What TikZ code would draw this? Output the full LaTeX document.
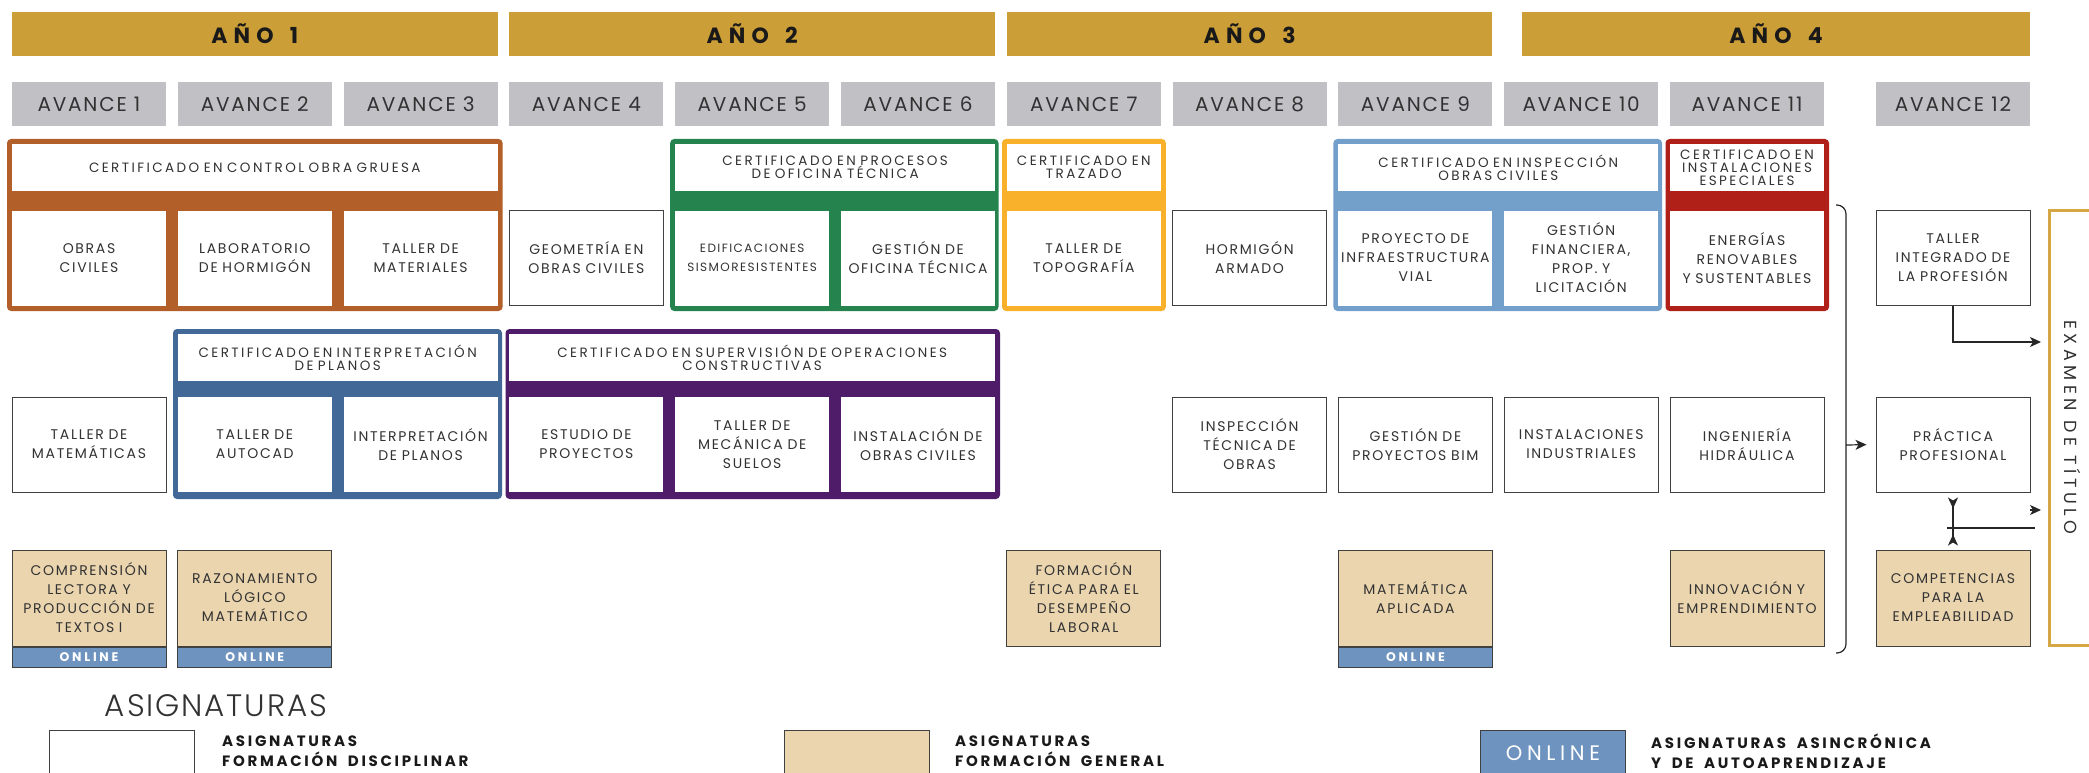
\documentclass[tikz,border=0pt]{standalone}
\usepackage{fontspec}
\usepackage{tikz}
\usetikzlibrary{arrows.meta}
\setmainfont{Poppins}
\newfontfamily\cajafont{Poppins}[LetterSpace=12, WordSpace=1.6]
\newfontfamily\titfont{Poppins}[LetterSpace=18, WordSpace=1.8]
\newfontfamily\aniofont{Poppins}[LetterSpace=28, WordSpace=1.5]
\newfontfamily\avfont{Poppins}[LetterSpace=9]
\newfontfamily\examfont{Poppins}[LetterSpace=26]
\newfontfamily\leyfont{Poppins}[LetterSpace=18, WordSpace=1.8]
\newfontfamily\onfont{Poppins}[LetterSpace=22]
\newfontfamily\finafont{Poppins}[UprightFont=* Light, LetterSpace=6]
\definecolor{oro}{RGB}{204,158,56}
\definecolor{oroex}{RGB}{212,166,68}
\definecolor{gris}{RGB}{193,192,197}
\definecolor{cafe}{RGB}{179,95,41}
\definecolor{verde}{RGB}{37,132,78}
\definecolor{amarillo}{RGB}{249,176,43}
\definecolor{celeste}{RGB}{114,160,202}
\definecolor{rojo}{RGB}{176,32,25}
\definecolor{azul}{RGB}{66,104,152}
\definecolor{morado}{RGB}{79,28,106}
\definecolor{beige}{RGB}{234,213,175}
\definecolor{onblue}{RGB}{109,147,190}
\definecolor{txt}{RGB}{50,50,50}
\tikzstyle{anio}=[fill=oro, minimum width=485.6, minimum height=44, inner sep=0, text=black!90, font=\aniofont\bfseries\fontsize{22}{22}\selectfont]
\tikzstyle{avance}=[fill=gris, minimum width=154, minimum height=44, inner sep=0, text=txt, font=\avfont\fontsize{20}{20}\selectfont]
\tikzstyle{titulo}=[fill=white, minimum height=47, inner sep=0, align=center, text=txt, font=\titfont\fontsize{13.5}{13}\selectfont]
\tikzstyle{curso}=[fill=white, text width=154, minimum height=95, inner sep=0, align=center, text=txt, font=\cajafont\fontsize{14}{19}\selectfont]
\tikzstyle{libre}=[curso, draw=black!75, line width=1]
\tikzstyle{general}=[libre, fill=beige, minimum height=96]
\tikzstyle{online}=[draw=black!75, line width=1, fill=onblue, minimum width=154, minimum height=20, inner sep=0, text=white, font=\onfont\bfseries\fontsize{12.5}{12}\selectfont]
\tikzstyle{linea}=[draw=black!85, line width=1.2]
\tikzstyle{flecha}=[linea, -{Stealth[length=11, width=10, inset=3]}]
\tikzstyle{muestra}=[draw=black!75, line width=1, minimum width=145, minimum height=60, inner sep=0, anchor=north west]
\tikzstyle{leyenda}=[anchor=west, inner sep=0, align=left, text=black!90, font=\leyfont\bfseries\fontsize{15}{20}\selectfont]

\begin{document}
\begin{tikzpicture}[x=1pt, y=-1pt]
\useasboundingbox (0,0) rectangle (2089,773);
\clip (0,0) rectangle (2089,773);
\fill[white] (0,0) rectangle (2089,773);

% anios y avances
\node[anio] (a1) at (254.8,34) {AÑO 1};
\node[anio] (a2) at (752.2,34) {AÑO 2};
\node[anio] (a3) at (1249.6,34) {AÑO 3};
\node[anio, minimum width=508] (a4) at (1776,34) {AÑO 4};
\foreach \i in {1,...,11}
  \node[avance] (av\i) at ({89+(\i-1)*165.8},104) {AVANCE \i};
\node[avance] (av12) at (1953,104) {AVANCE 12};

% certificados, fila 1
\fill[cafe, rounded corners=4] (7,139) rectangle (502.6,311);
\node[titulo, text width=485.6] (t1) at (254.8,167.5) {CERTIFICADO EN CONTROL OBRA GRUESA};
\node[curso] (c1) at (89,258) {OBRAS\\CIVILES};
\node[curso] (c2) at (254.8,258) {LABORATORIO\\DE HORMIGÓN};
\node[curso] (c3) at (420.6,258) {TALLER DE\\MATERIALES};
\node[libre] (c4) at (586.4,258) {GEOMETRÍA EN\\OBRAS CIVILES};

\fill[verde, rounded corners=4] (670.2,139) rectangle (998.5,311);
\node[titulo, text width=319.8] (t2) at (835.1,167.5) {CERTIFICADO EN PROCESOS\\DE OFICINA TÉCNICA};
\node[curso, font=\cajafont\fontsize{12}{19}\selectfont] (c5) at (752.2,258) {EDIFICACIONES\\SISMORESISTENTES};
\node[curso] (c6) at (918,258) {GESTIÓN DE\\OFICINA TÉCNICA};

\fill[amarillo, rounded corners=4] (1002,139) rectangle (1165.8,311);
\node[titulo, text width=154] (t3) at (1083.8,167.5) {CERTIFICADO EN\\TRAZADO};
\node[curso] (c7) at (1083.8,258) {TALLER DE\\TOPOGRAFÍA};
\node[libre] (c8) at (1249.6,258) {HORMIGÓN\\ARMADO};

\fill[celeste, rounded corners=4] (1333.4,139) rectangle (1662,311);
\node[titulo, text width=319.8] (t4) at (1498.3,167.5) {CERTIFICADO EN INSPECCIÓN\\OBRAS CIVILES};
\node[curso] (c9) at (1415.4,258) {PROYECTO DE\\INFRAESTRUCTURA\\VIAL};
\node[curso] (c10) at (1581.2,258) {GESTIÓN\\FINANCIERA,\\PROP. Y\\LICITACIÓN};

\fill[rojo, rounded corners=4] (1665.5,139) rectangle (1829,311);
\node[titulo, text width=154] (t5) at (1747,167.5) {CERTIFICADO EN\\INSTALACIONES\\ESPECIALES};
\node[curso] (c11) at (1747,258) {ENERGÍAS\\RENOVABLES\\Y SUSTENTABLES};
\node[libre] (c12) at (1953,258) {TALLER\\INTEGRADO DE\\LA PROFESIÓN};

% fila 2
\node[libre] (d1) at (89,444.5) {TALLER DE\\MATEMÁTICAS};
\fill[azul, rounded corners=4] (173,329) rectangle (502,499);
\node[titulo, text width=319.8] (t6) at (337.7,357.5) {CERTIFICADO EN INTERPRETACIÓN\\DE PLANOS};
\node[curso] (d2) at (254.8,444.5) {TALLER DE\\AUTOCAD};
\node[curso] (d3) at (420.6,444.5) {INTERPRETACIÓN\\DE PLANOS};
\fill[morado, rounded corners=4] (505.5,329) rectangle (1000,499);
\node[titulo, text width=485.6] (t7) at (752.2,357.5) {CERTIFICADO EN SUPERVISIÓN DE OPERACIONES\\CONSTRUCTIVAS};
\node[curso] (d4) at (586.4,444.5) {ESTUDIO DE\\PROYECTOS};
\node[curso] (d5) at (752.2,444.5) {TALLER DE\\MECÁNICA DE\\SUELOS};
\node[curso] (d6) at (918,444.5) {INSTALACIÓN DE\\OBRAS CIVILES};
\node[libre] (d8) at (1249.6,444.5) {INSPECCIÓN\\TÉCNICA DE\\OBRAS};
\node[libre] (d9) at (1415.4,444.5) {GESTIÓN DE\\PROYECTOS BIM};
\node[libre] (d10) at (1581.2,444.5) {INSTALACIONES\\INDUSTRIALES};
\node[libre] (d11) at (1747,444.5) {INGENIERÍA\\HIDRÁULICA};
\node[libre] (d12) at (1953,444.5) {PRÁCTICA\\PROFESIONAL};

% formacion general
\node[general] (g1) at (89,598) {COMPRENSIÓN\\LECTORA Y\\PRODUCCIÓN DE\\TEXTOS I};
\node[online, anchor=north] (o1) at (g1.south) {ONLINE};
\node[general] (g2) at (254.8,598) {RAZONAMIENTO\\LÓGICO\\MATEMÁTICO};
\node[online, anchor=north] (o2) at (g2.south) {ONLINE};
\node[general] (g7) at (1083.8,598) {FORMACIÓN\\ÉTICA PARA EL\\DESEMPEÑO\\LABORAL};
\node[general] (g9) at (1415.4,598) {MATEMÁTICA\\APLICADA};
\node[online, anchor=north] (o9) at (g9.south) {ONLINE};
\node[general] (g11) at (1747,598) {INNOVACIÓN Y\\EMPRENDIMIENTO};
\node[general] (g12) at (1953,598) {COMPETENCIAS\\PARA LA\\EMPLEABILIDAD};

% examen
\node[draw=oroex, line width=3, minimum width=48, minimum height=435, inner sep=0] (ex) at (2073,427.5) {};
\node[rotate=-90, inner sep=0, text=txt, font=\examfont\fontsize{17.5}{17}\selectfont] (ext) at (ex.center) {EXAMEN DE TÍTULO};

% llave y flechas
\draw[linea, rounded corners=9] (1836,205) -- (1846,205) -- (1846,653) -- (1836,653);
\coordinate (br) at (1846,445);
\draw[flecha, shorten >=9] (br) -- (d12.west);
\coordinate (e1) at (2041,342);
\draw[flecha] (c12.south) |- (e1);
\draw[linea, {Stealth[length=11, width=10, inset=3, reversed]}-{Stealth[length=11, width=10, inset=3, reversed]}, shorten <=5, shorten >=4] (d12.south) -- (g12.north);
\coordinate (j) at (1947,528);
\coordinate (e2) at (2035,528);
\draw[linea] (j) -- (e2);
\coordinate (e3) at (2041,510);
\draw[flecha] ([xshift=-11]e3) -- (e3);

% leyenda
\node[inner sep=0, text=txt, font=\finafont\fontsize{31}{31}\selectfont] (ley) at (216,706) {ASIGNATURAS};
\node[muestra, fill=white] (m1) at (49,730) {};
\node[leyenda] (l1) at (222,751) {ASIGNATURAS\\FORMACIÓN DISCIPLINAR};
\node[muestra, fill=beige] (m2) at (784,730) {};
\node[leyenda] (l2) at (955,751) {ASIGNATURAS\\FORMACIÓN GENERAL};
\node[muestra, fill=onblue, minimum height=46, text=white, font=\onfont\fontsize{21}{21}\selectfont] (m3) at (1480,730) {ONLINE};
\node[leyenda] (l3) at (1651,751) {ASIGNATURAS ASINCRÓNICA\\Y DE AUTOAPRENDIZAJE};
\end{tikzpicture}
\end{document}
